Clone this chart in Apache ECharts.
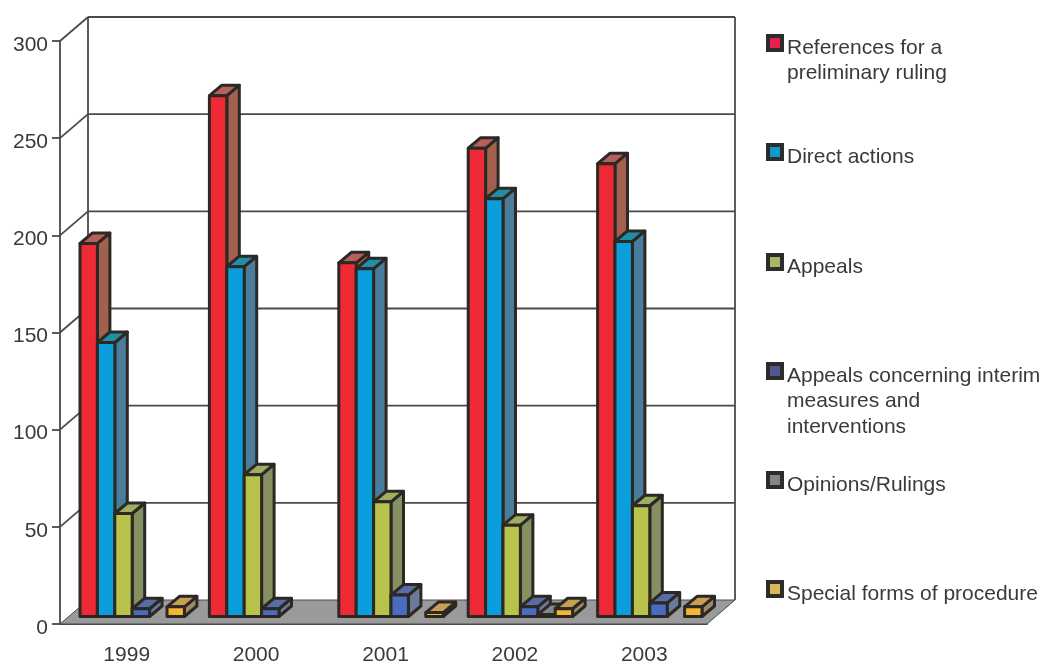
<!DOCTYPE html>
<html>
<head>
<meta charset="utf-8">
<style>html,body{margin:0;padding:0;background:#fff}#chart{width:1044px;height:663px}</style>
<script src="https://cdn.jsdelivr.net/npm/echarts@6/dist/echarts.min.js"></script>
</head>
<body>
<div id="chart"></div>
<script>
// Cases completed per year, by type of procedure
const years = ['1999', '2000', '2001', '2002', '2003'];
const references = [192, 268, 182, 241, 233];
const directActions = [141, 180, 179, 215, 193];
const appeals = [53, 73, 59, 47, 57];
const interimAppeals = [4, 4, 11, 5, 7];
const opinions = [0, 0, 0, 1, 0];
const specialForms = [5, 0, 2, 4, 5];
const yTicks = [0, 50, 100, 150, 200, 250, 300];

const seriesNames = [
  'References for a\npreliminary ruling',
  'Direct actions',
  'Appeals',
  'Appeals concerning interim\nmeasures and\ninterventions',
  'Opinions/Rulings',
  'Special forms of procedure'
];
const seriesValues = [references, directActions, appeals, interimAppeals, opinions, specialForms];

// Face shades: front, top, side
const faceColors = [
  ['#ee2a36', '#b5605a', '#a2604f'],
  ['#0a9fdc', '#1f8fa8', '#4a7d9c'],
  ['#b9c24a', '#9fae62', '#858f62'],
  ['#4a6cc0', '#5a6ca8', '#6a7a9c'],
  ['#8a8a92', '#85858c', '#77777e'],
  ['#f2b632', '#c99f55', '#a08a68']
];
const legendSwatch = ['#e8204f', '#0f9bc9', '#a9b562', '#4f5690', '#858585', '#d8b85a'];
const legendTop = [36, 145, 255, 364, 473, 582];

const ink = '#2c2824';
const wallLine = '#4a4a4a';
const fontFamily = '"Liberation Sans", Arial, sans-serif';
const wallDepth = [28, -24];     // front plane to back wall
const barInset = [10.5, -7.5];   // front plane to the bars' front faces
const barDepth = [12.5, -10.5];  // front face to back face of a bar
const barWidth = 17.4;
const barStart = 9.5;            // gap before the first bar in a year

function shift(p, d) { return [p[0] + d[0], p[1] + d[1]]; }

function renderFrame(params, api) {
  const v = api.value(0);
  const band = api.size([1, 0])[0];
  const left = api.coord([0, v])[0] - band / 2;
  const right = left + band * years.length;
  const y = api.coord([0, v])[1];
  const a = [left, y], b = [right, y];
  const children = [];
  if (v === 0) {
    children.push({
      type: 'polygon',
      shape: { points: [a, b, shift(b, wallDepth), shift(a, wallDepth)] },
      style: { fill: '#9b9a9b', stroke: wallLine, lineWidth: 1 }
    });
    const top = api.coord([0, yTicks[yTicks.length - 1]])[1];
    [a, b].forEach(function (p) {
      const base = shift(p, wallDepth);
      children.push({
        type: 'line',
        shape: { x1: base[0], y1: base[1], x2: base[0], y2: top + wallDepth[1] },
        style: { stroke: wallLine, lineWidth: 1.8 }
      });
    });
  } else {
    const c = shift(a, wallDepth), d = shift(b, wallDepth);
    children.push({
      type: 'line',
      shape: { x1: a[0], y1: a[1], x2: c[0], y2: c[1] },
      style: { stroke: wallLine, lineWidth: 1.8 }
    });
    children.push({
      type: 'line',
      shape: { x1: c[0], y1: c[1], x2: d[0], y2: d[1] },
      style: { stroke: wallLine, lineWidth: 1.8 }
    });
  }
  return { type: 'group', children: children };
}

function barRenderer(index) {
  return function (params, api) {
    const cat = api.value(0);
    const base = api.coord([cat, 0]);
    const tip = api.coord([cat, api.value(1)]);
    const band = api.size([1, 0])[0];
    const x = base[0] - band / 2 + barStart + barWidth * index + barInset[0];
    const y0 = base[1] + barInset[1];
    const y1 = tip[1] + barInset[1];
    const fl = [x, y1], fr = [x + barWidth, y1];
    const br = [x + barWidth, y0];
    const stroke = { stroke: ink, lineWidth: 3, lineJoin: 'round' };
    const shade = faceColors[index];
    return {
      type: 'group',
      children: [
        {
          type: 'polygon',
          shape: { points: [fr, br, shift(br, barDepth), shift(fr, barDepth)] },
          style: Object.assign({ fill: shade[2] }, stroke)
        },
        {
          type: 'polygon',
          shape: { points: [fl, fr, shift(fr, barDepth), shift(fl, barDepth)] },
          style: Object.assign({ fill: shade[1] }, stroke)
        },
        {
          type: 'rect',
          shape: { x: x, y: y1, width: barWidth, height: y0 - y1 },
          style: Object.assign({ fill: shade[0] }, stroke)
        }
      ]
    };
  };
}

const barSeries = seriesValues.map(function (values, i) {
  return {
    type: 'custom',
    name: seriesNames[i].replace(/\n/g, ' '),
    renderItem: barRenderer(i),
    encode: { x: 0, y: 1 },
    data: values.map(function (v, c) { return [c, v]; }).filter(function (d) { return d[1] > 0; })
  };
});

const legendItems = seriesNames.map(function (name, i) {
  return {
    type: 'group',
    x: 768,
    y: legendTop[i],
    children: [
      {
        type: 'rect',
        shape: { x: 0, y: 0, width: 14, height: 14 },
        style: { fill: legendSwatch[i], stroke: '#2c2c2c', lineWidth: 4 }
      },
      {
        type: 'text',
        x: 19,
        y: -1,
        style: {
          text: name,
          fill: '#3a3a3e',
          font: '21px ' + fontFamily,
          lineHeight: 25.5,
          textVerticalAlign: 'top'
        }
      }
    ]
  };
});

const chart = echarts.init(document.getElementById('chart'), null, { renderer: 'canvas' });
chart.setOption({
  animation: false,
  backgroundColor: '#ffffff',
  grid: { left: 60, right: 337, top: 41, bottom: 39, outerBoundsMode: 'none' },
  xAxis: {
    type: 'category',
    data: years,
    boundaryGap: true,
    axisLine: { lineStyle: { color: wallLine, width: 1.8 } },
    axisTick: { length: 10, alignWithLabel: false, lineStyle: { color: wallLine, width: 1.8 } },
    axisLabel: { color: '#3a3a3e', fontSize: 21, margin: 21, padding: [0, 0, 0, 4], fontFamily: fontFamily }
  },
  yAxis: {
    type: 'value',
    min: 0,
    max: 300,
    interval: 50,
    splitLine: { show: false },
    axisLine: { show: true, lineStyle: { color: wallLine, width: 1.8 } },
    axisTick: { show: true, length: 8, lineStyle: { color: wallLine, width: 1.8 } },
    axisLabel: {
      color: '#3a3a3e', fontSize: 21, margin: 12,
      verticalAlign: 'top', lineHeight: 8,
      fontFamily: fontFamily
    }
  },
  graphic: legendItems,
  series: [{
    type: 'custom',
    name: 'frame',
    silent: true,
    renderItem: renderFrame,
    encode: { y: 0 },
    data: yTicks.map(function (t) { return [t]; })
  }].concat(barSeries)
});
</script>
</body>
</html>
